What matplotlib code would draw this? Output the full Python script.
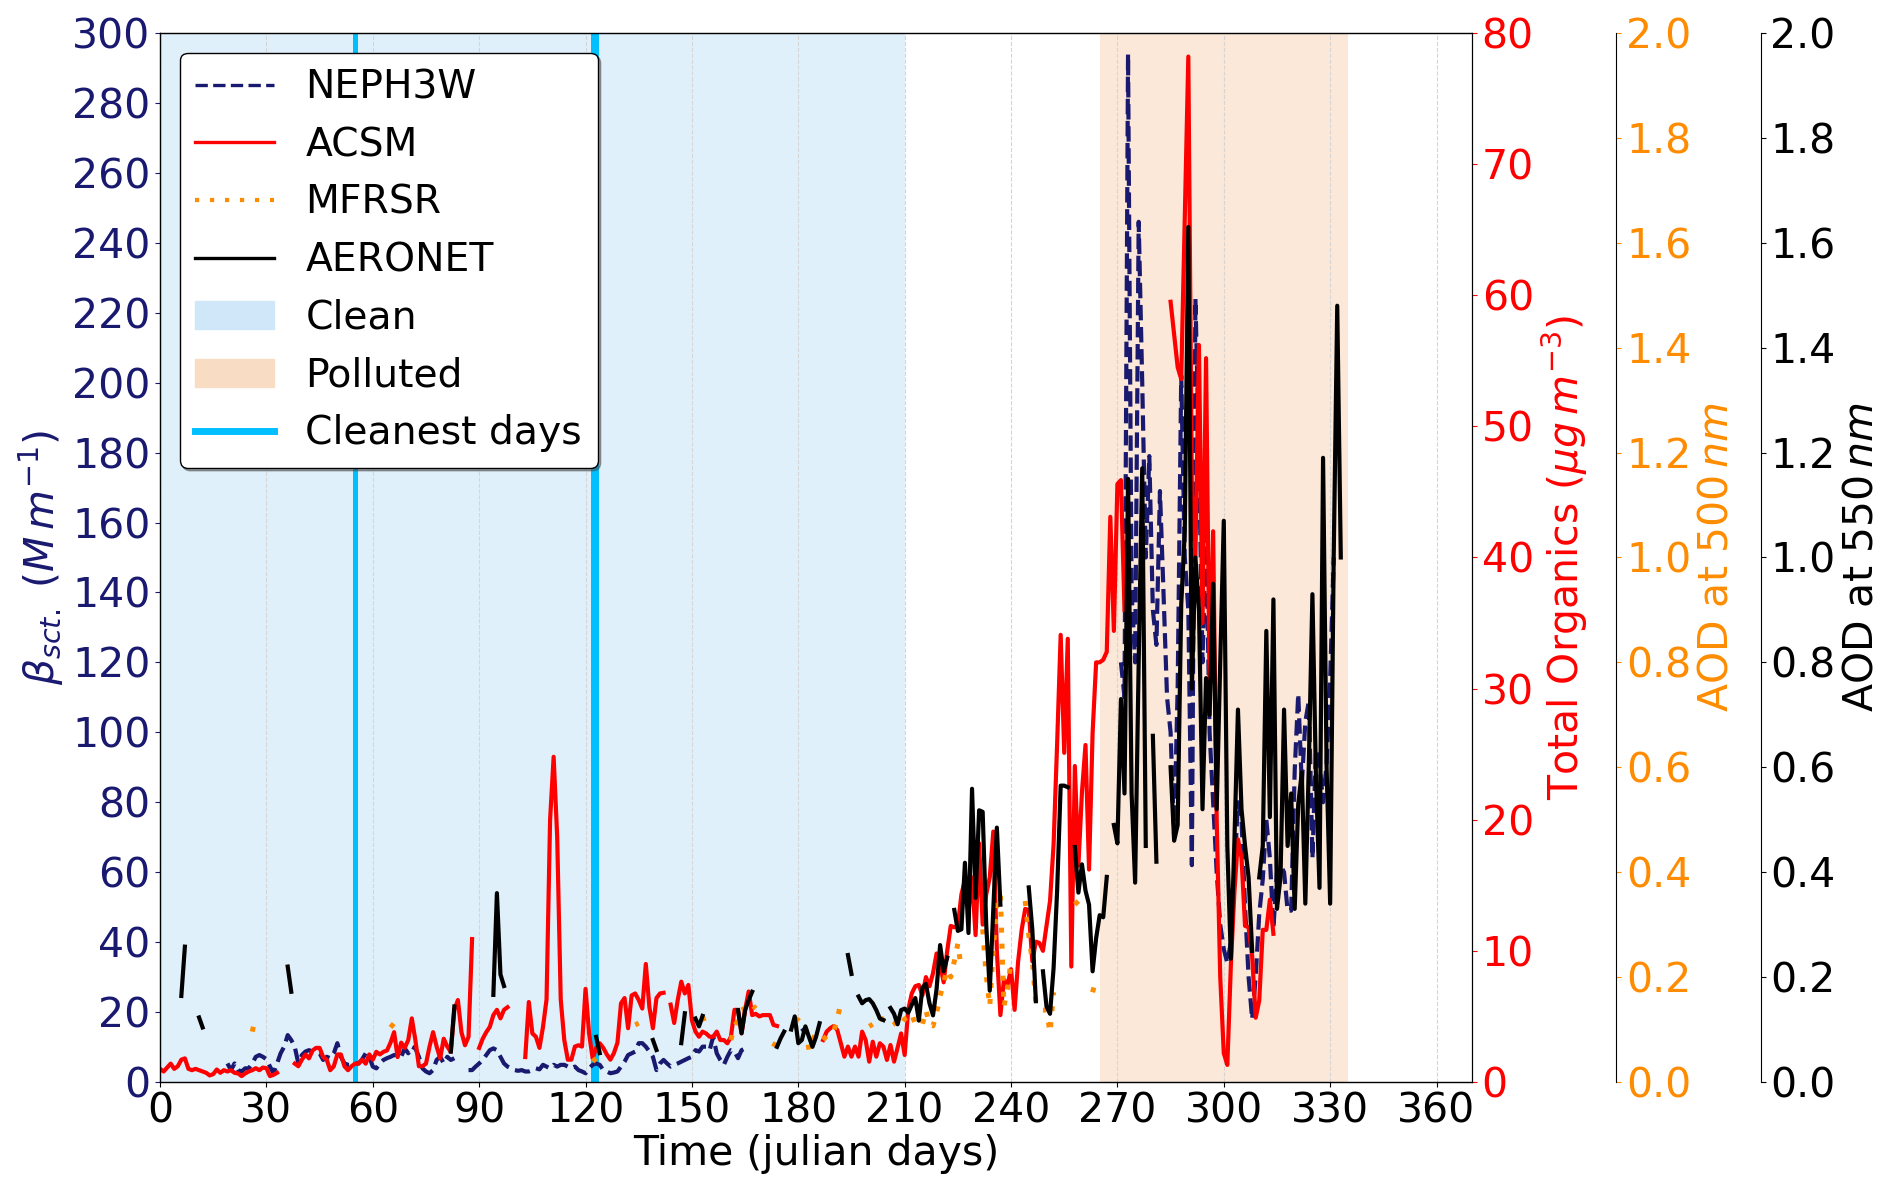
import numpy as np
import matplotlib
matplotlib.use('Agg')
import matplotlib.pyplot as plt
from matplotlib.patches import Patch
from matplotlib.lines import Line2D

nan = np.nan

# NEPH3W scattering (Mm-1): segment start days and daily values
neph_start = [19, 87, 181, 271]
neph_vals = [
    [5.3, 3.4, 5.3, 3.4, 3.0, 3.9, 3.9, 5.3, 7.2, 7.7, 7.2, 6.5, 4.4, 2.5, 5.3, 8.2, 10.1, 13.4, 12.0, 10.0,
     5.3, 7.7, 8.7, 9.1, 8.7, 8.7, 8.2, 6.3, 7.2, 6.8, 8.2, 11.1, 7.2, 5.3, 4.9, 4.9, 5.3, 5.3, 6.5, 8.2,
     7.2, 4.4, 3.9, 5.3, 6.3, 6.8, 7.2, 7.7, 7.7, 7.2, 9.6, 8.2, 10.1, 9.6, 7.2, 3.9, 3.0, 2.5, 3.4, 6.3,
     7.2, 5.3, 7.2, 6.3, 6.8],
    [3.4, 3.4, 4.4, 5.3, 6.3, 7.7, 9.1, 9.6, 9.1, 7.2, 5.3, 4.4, 3.9, 3.4, 3.2, 3.4, 3.0, 3.0, 3.4, 3.9,
     3.6, 4.9, 4.4, 3.9, 4.9, 4.4, 4.9, 4.9, 4.4, 3.9, 4.4, 3.4, 3.0, 2.5, 3.9, 4.9, 5.3, 4.9, 3.4, 3.0,
     2.5, 2.7, 3.0, 4.4, 5.8, 7.7, 8.2, 8.7, 11.1, 11.1, 10.1, 8.7, 7.2, 3.4, 5.3, 6.3, 5.3, 4.4, 4.9, 5.3,
     5.8, 6.3, 6.8, 7.2, 9.1, 8.7, 10.1, 10.1, 9.1, 13.0, 8.2, 6.3, 4.9, 7.2, 9.1, 8.7, 6.8, 9.1, 9.6, 10.1],
    [15.3, 14.0],
    [120, 110, 294, 140, 120, 246, 200, 150, 179, 135, 125, 169, 140, 110, 100, 70, 113, 202, 150, 135,
     62, 224, 180, 120, 160, 100, 80, 60, 45, 38, 34, 40, 60, 80, 75, 50, 30, 18, 30, 48,
     58, 75, 64, 44, 60, 62, 60, 49, 49, 89, 111, 85, 103, 109, 64, 95, 91, 80, 91, 115, 150],
]

# ACSM total organics (ug m-3)
acsm_start = [0, 38, 90, 103, 144, 187, 285]
acsm_vals = [
    [1.0, 0.8, 1.1, 1.4, 1.0, 1.2, 1.7, 1.8, 1.0, 0.9, 1.0, 0.9, 0.8, 0.7, 0.5, 0.6, 0.95, 0.7, 0.9, 0.8,
     0.9, 0.7, 0.65, 0.45, 0.65, 0.8, 0.9, 1.05, 0.9, 1.1, 1.05, 0.45, 0.55, 0.7],
    [1.4, 1.2, 1.7, 2.1, 1.8, 2.4, 2.6, 2.6, 1.9, 1.7, 0.9, 1.2, 2.1, 2.1, 1.2, 0.9, 1.2, 1.4, 1.4, 1.7,
     1.4, 2.1, 1.7, 2.3, 2.1, 2.3, 2.4, 3.0, 3.8, 1.9, 3.0, 2.6, 3.2, 4.85, 3.2, 1.2, 1.2, 1.4, 2.7, 3.8,
     2.7, 1.8, 3.3, 2.7, 2.3, 5.5, 6.25, 3.8, 2.8, 3.45, 10.9],
    [2.6, 3.3, 3.8, 4.2, 5.1, 5.5, 4.85, 5.5, 5.7],
    [1.9, 6.1, 3.7, 3.45, 2.6, 4.2, 6.3, 20.0, 24.8, 18.7, 6.3, 3.2, 1.7, 1.7, 2.7, 2.8, 2.7, 7.1, 3.7, 1.8,
     2.6, 2.95, 2.6, 2.1, 1.7, 2.2, 3.0, 6.0, 6.4, 4.1, 6.6, 6.75, 6.25, 5.6, 9.0, 5.7, 4.1, 6.4, 6.75, 6.8],
    [5.9, 4.5, 6.25, 7.65, 6.75, 7.4, 4.7, 3.84, 3.45, 3.84, 3.7, 3.45, 3.45, 3.84, 3.2, 3.2, 2.95, 3.45,
     5.5, 5.5, 3.7, 5.5, 6.9, 5.1, 5.2, 5.0, 5.1, 5.1, 5.1, 4.35, 4.27],
    [3.2, 3.84, 4.1, 4.27, 3.96, 2.95, 1.93, 2.7, 1.93, 2.7, 1.93, 3.84, 3.2, 1.55, 3.07, 1.93, 2.95, 2.7,
     1.68, 2.82, 1.55, 2.6, 3.7, 2.06, 5.5, 6.75, 7.3, 7.4, 6.6, 8.0, 7.3, 8.3, 9.8, 9.0, 7.6, 10.0, 11.9,
     11.8, 11.9, 14.3, 15.4, 13.0, 15.6, 11.2, 18.2, 12.0, 14.3, 15.6, 19.1, 10.0, 5.1, 7.8, 7.4, 8.6, 5.5,
     9.2, 11.6, 13.2, 13.1, 9.2, 10.7, 10.6, 10.0, 11.9, 13.8, 18.1, 25.8, 34.1, 25.1, 33.8, 8.8, 24.1,
     16.5, 22.1, 25.7, 16.2, 26.6, 32.0, 32.0, 32.2, 32.8, 43.1, 34.4, 45.6, 45.9, 36.0],
    [59.5, 57.0, 54.5, 53.6, 66.0, 78.2, 45.0, 40.0, 56.2, 35.0, 55.2, 30.0, 42.0, 20.0, 8.0, 2.2, 1.3,
     8.9, 14.5, 18.5, 17.1, 11.9, 11.8, 9.6, 4.9, 6.2, 11.6, 11.6, 13.9, 11.3],
]

# MFRSR AOD at 500 nm
mfrsr_start = [26, 65, 122, 134, 153, 161, 173, 179, 187, 200, 203, 232, 244, 249, 258, 263]
mfrsr_vals = [
    [0.096, 0.125], [0.104, 0.112], [0.039, 0.045], [0.109, 0.112], [0.125, 0.106],
    [0.08, 0.106, 0.118, 0.137, 0.141, 0.137, 0.147, 0.14],
    [0.067, 0.08],
    [0.121, 0.118, 0.11, 0.106, 0.061, 0.08, 0.093],
    [0.08, 0.088, 0.093, 0.096, 0.121, 0.15],
    [0.106, 0.11],
    [0.12, 0.12, 0.125, 0.12, 0.115, 0.104, 0.11, 0.12, 0.124, 0.131, 0.109, 0.107, 0.11, 0.137, 0.109,
     0.107, 0.131, 0.164, 0.19, 0.214, 0.2, 0.23, 0.264, 0.214],
    [0.291, 0.204, 0.144, 0.254, 0.338, 0.358, 0.144, 0.177, 0.231],
    [0.345, 0.28, 0.231, 0.151],
    [0.137, 0.137, 0.094, 0.171],
    [0.345, 0.338, 0.338],
    [0.171, 0.197],
]

# AERONET AOD at 550 nm
aero_start = [6, 11, 36, 82, 94, 123, 139, 147, 151, 163, 174, 178, 194, 197, 206, 224, 245, 249, 258,
              269, 280, 285, 310]
aero_vals = [
    [0.164, 0.258], [0.123, 0.104], [0.22, 0.172], [0.058, 0.144], [0.166, 0.36, 0.205, 0.183],
    [0.086, 0.055], [0.08, 0.061], [0.074, 0.131], [0.121, 0.106, 0.126],
    [0.137, 0.093, 0.137, 0.156, 0.172], [0.067, 0.083, 0.096],
    [0.10, 0.125, 0.074, 0.08, 0.106, 0.086, 0.067, 0.086, 0.112],
    [0.242, 0.206],
    [0.163, 0.150, 0.156, 0.158, 0.15, 0.137, 0.121, 0.118],
    [0.141, 0.130, 0.11, 0.137, 0.14, 0.132, 0.147, 0.16, 0.117, 0.18, 0.187, 0.15, 0.127, 0.177, 0.261,
     0.211, 0.237],
    [0.328, 0.288, 0.291, 0.418, 0.284, 0.559, 0.351, 0.518, 0.515, 0.30, 0.174, 0.331, 0.485, 0.338],
    [0.371, 0.291, 0.154],
    [0.211, 0.144, 0.13, 0.217, 0.365, 0.565, 0.565, 0.562],
    [0.448, 0.361, 0.415, 0.365, 0.338, 0.211, 0.274, 0.318, 0.314, 0.391],
    [0.49, 0.455, 0.73, 0.55, 1.15, 0.55, 0.38, 0.80, 1.17, 0.45],
    [0.66, 0.42],
    [0.60, 0.46, 0.49, 0.91, 1.05, 1.63, 0.75, 1.0, 0.90, 0.52, 0.77, 0.70, 0.95, 0.52, 0.80, 1.07, 0.45,
     0.235, 0.46, 0.71, 0.52, 0.45, 0.39, 0.25],
    [0.39, 0.45, 0.86, 0.505, 0.92, 0.33, 0.39, 0.71, 0.45, 0.55, 0.33, 0.53, 0.59, 0.34, 0.61, 0.93,
     0.58, 0.37, 1.19, 0.60, 0.34, 1.0, 1.48, 1.0],
]

clean_period = (0, 210)
polluted_period = (265, 335)
cleanest_days = [55, 122, 123]

navy = '#191970'


def join(starts, segs):
    # glue the segments together with nan so the line breaks at the gaps
    d, v = [], []
    for s, seg in zip(starts, segs):
        d += list(np.arange(s, s + len(seg))) + [nan]
        v += list(seg) + [nan]
    return np.array(d, float), np.array(v, float)


fs = 29.5
fs_leg = 28.3
fig = plt.figure(figsize=(18.92, 11.99), dpi=100)
ax = fig.add_axes([0.0846, 0.0976, 0.6934, 0.8749])
ax2 = ax.twinx()
ax3 = ax.twinx()
ax4 = ax.twinx()
ax3.spines['right'].set_position(('axes', 1.11))
ax4.spines['right'].set_position(('axes', 1.22))

ax.axvspan(*clean_period, color='#e0f0fb', lw=0, zorder=0)
ax.axvspan(*polluted_period, color='#fbe8d8', lw=0, zorder=0)
for d in cleanest_days:
    ax.axvline(d, color='deepskyblue', lw=3.6)
ax.grid(axis='x', ls='--', color='#d5d5d5', lw=0.8)

x, y = join(neph_start, neph_vals)
ax.plot(x, y, ls='--', color=navy, lw=3)
x, y = join(acsm_start, acsm_vals)
ax2.plot(x, y, color='red', lw=3)
x, y = join(mfrsr_start, mfrsr_vals)
ax3.plot(x, y, ls=':', dashes=(1, 2.2), color='darkorange', lw=3.6)
x, y = join(aero_start, aero_vals)
ax4.plot(x, y, color='black', lw=3)

ax.set_xlim(0, 370)
ax.set_xticks(range(0, 361, 30))
ax.set_ylim(0, 300)
ax.set_yticks(range(0, 301, 20))
ax2.set_ylim(0, 80)
ax2.set_yticks(range(0, 81, 10))
for a in (ax3, ax4):
    a.set_ylim(0, 2)
    a.set_yticks(np.arange(0, 2.01, 0.2))
    a.set_yticklabels(['%.1f' % t for t in np.arange(0, 2.01, 0.2)])

ax.tick_params(axis='x', labelsize=fs, colors='black')
ax.tick_params(axis='y', labelsize=fs, colors=navy)
ax2.tick_params(axis='y', labelsize=fs, colors='red')
ax3.tick_params(axis='y', labelsize=fs, colors='darkorange')
ax4.tick_params(axis='y', labelsize=fs, colors='black')

ax.set_xlabel('Time (julian days)', fontsize=fs, labelpad=2)
ax.set_ylabel(r'$\beta_{sct.}\ (M\,m^{-1})$', fontsize=fs, color=navy)
ax2.set_ylabel(r'Total Organics ($\mu g\,m^{-3}$)', fontsize=fs, color='red')
ax3.set_ylabel(r'AOD at 500$\,nm$', fontsize=fs, color='darkorange')
ax4.set_ylabel(r'AOD at 550$\,nm$', fontsize=fs, color='black')

handles = [
    Line2D([], [], ls='--', color=navy, lw=2.4),
    Line2D([], [], color='red', lw=2.4),
    Line2D([], [], ls=':', dashes=(1, 2.6), color='darkorange', lw=3),
    Line2D([], [], color='black', lw=2.4),
    Patch(color='#cfe7f8'),
    Patch(color='#f9dcc4'),
    Line2D([], [], color='deepskyblue', lw=5),
]
labels = ['NEPH3W', 'ACSM', 'MFRSR', 'AERONET', 'Clean', 'Polluted', 'Cleanest days']
leg = ax4.legend(handles, labels, loc='upper left', fontsize=fs_leg, shadow=True,
                 framealpha=1, edgecolor='black')

fig.savefig('out.png', dpi=100)
